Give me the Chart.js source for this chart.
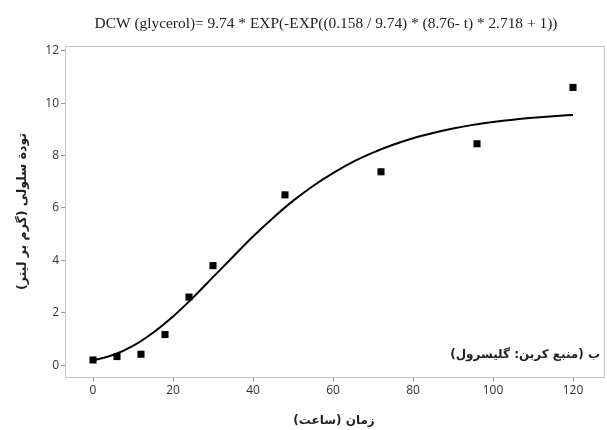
<!DOCTYPE html>
<html>
<head>
<meta charset="utf-8">
<script src="https://cdn.jsdelivr.net/npm/chart.js@4/dist/chart.umd.min.js"></script>
<style>
  html, body { margin: 0; padding: 0; background: #fff; }
  #wrap { width: 607px; height: 430px; position: relative; }
</style>
</head>
<body>
<div id="wrap"><canvas id="c"></canvas></div>
<script>
// measured points (hours, g/L)
const sampleTimes = [0, 6, 12, 18, 24, 30, 48, 72, 96, 120];
const sampleDcw = [0.2, 0.33, 0.42, 1.17, 2.6, 3.8, 6.5, 7.38, 8.45, 10.6];

// fitted curve, every 5 hours
const fitTimes = [0, 5, 10, 15, 20, 25, 30, 35, 40, 45, 50, 55, 60, 65, 70, 75, 80, 85, 90, 95, 100, 105, 110, 115, 120];
const fitDcw = [0.18, 0.39, 0.74, 1.24, 1.86, 2.58, 3.36, 4.14, 4.91, 5.62, 6.27, 6.84, 7.33, 7.76, 8.11, 8.41, 8.66, 8.86, 9.03, 9.17, 9.28, 9.37, 9.44, 9.5, 9.55];

const xTicks = [0, 20, 40, 60, 80, 100, 120];
const yTicks = [0, 2, 4, 6, 8, 10, 12];

const titleText = 'DCW (glycerol)= 9.74 * EXP(-EXP((0.158 / 9.74) * (8.76- t) * 2.718 + 1))';
const xTitle = 'زمان (ساعت)';
const yTitle = 'تودة سلولی (گرم بر لیتر)';
const note = 'ب (منبع کربن: گلیسرول)';

// frame + all text drawn here
const decor = {
  id: 'decor',
  afterDraw(chart) {
    const { ctx, chartArea: a } = chart;
    ctx.save();
    ctx.strokeStyle = '#c4c4c4';
    ctx.lineWidth = 1;
    ctx.strokeRect(a.left + 0.5, a.top + 0.5, a.right - a.left - 1, a.bottom - a.top);

    ctx.fillStyle = '#222';
    ctx.textBaseline = 'middle';
    ctx.textAlign = 'center';
    ctx.font = '15.4px "Liberation Serif"';
    ctx.fillText(titleText, 326, 24);

    ctx.direction = 'rtl';
    ctx.font = 'bold 12px "DejaVu Sans"';
    ctx.fillText(xTitle, 334, 421);

    ctx.textAlign = 'right';
    ctx.fillText(note, a.right - 5, 355);

    ctx.translate(23, (a.top + a.bottom) / 2);
    ctx.rotate(-Math.PI / 2);
    ctx.textAlign = 'center';
    ctx.font = 'bold 12.5px "DejaVu Sans"';
    ctx.fillText(yTitle, 0, 0);
    ctx.restore();
  }
};

new Chart(document.getElementById('c'), {
  type: 'scatter',
  data: {
    datasets: [
      {
        label: 'fit',
        type: 'line',
        data: fitTimes.map((t, i) => ({ x: t, y: fitDcw[i] })),
        borderColor: '#000',
        borderWidth: 2,
        pointRadius: 0,
        cubicInterpolationMode: 'monotone',
        fill: false
      },
      {
        label: 'DCW',
        data: sampleTimes.map((t, i) => ({ x: t, y: sampleDcw[i] })),
        pointStyle: 'rect',
        pointRadius: 5,
        backgroundColor: '#000',
        borderColor: '#000',
        borderWidth: 0
      }
    ]
  },
  options: {
    responsive: true,
    maintainAspectRatio: false,
    animation: false,
    layout: { autoPadding: false, padding: { top: 46, right: 2, left: 0, bottom: 0 } },
    plugins: { legend: { display: false }, tooltip: { enabled: false } },
    scales: {
      x: {
        type: 'linear',
        min: -7,
        max: 128,
        afterBuildTicks: s => { s.ticks = xTicks.map(v => ({ value: v })); },
        afterFit: s => { s.height = 53; },
        grid: { drawOnChartArea: false, tickLength: 4, color: '#999' },
        border: { display: false },
        ticks: { color: '#333', font: { family: 'Open Sans', size: 12 }, padding: 2, maxRotation: 0 }
      },
      y: {
        min: -0.45,
        max: 12.18,
        afterBuildTicks: s => { s.ticks = yTicks.map(v => ({ value: v })); },
        afterFit: s => { s.width = 65; },
        grid: { drawOnChartArea: false, tickLength: 4, color: '#999' },
        border: { display: false },
        ticks: { color: '#333', font: { family: 'Open Sans', size: 12 }, padding: 2 }
      }
    }
  },
  plugins: [decor]
});
</script>
</body>
</html>
